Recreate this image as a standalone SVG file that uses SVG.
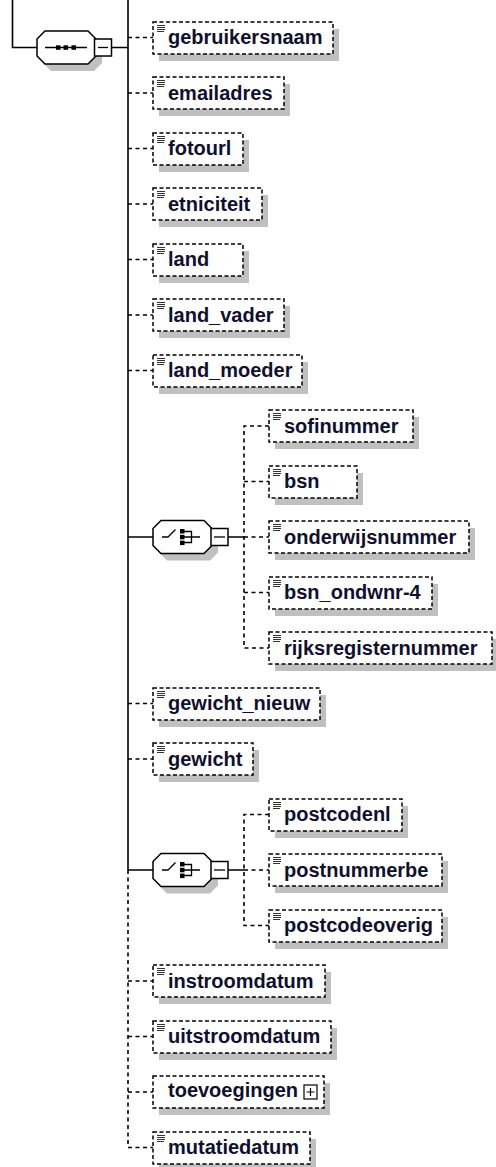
<svg xmlns="http://www.w3.org/2000/svg" xmlns:xlink="http://www.w3.org/1999/xlink" width="496" height="1167" viewBox="0 0 496 1167">
<style>
.box{fill:#fff;stroke:#000;stroke-width:1.5;stroke-dasharray:4 2.5}
.sh{fill:#c0c0c0}
.t{font-family:"Liberation Sans",Arial,sans-serif;font-weight:bold;font-size:20px;fill:#10102e}
.ln{stroke:#000;stroke-width:1.6;fill:none}
.dl{stroke:#000;stroke-width:1.6;fill:none;stroke-dasharray:4 3.5}
.oct{fill:#fff;stroke:#000;stroke-width:1.5}
.cb{fill:#fff;stroke:#000;stroke-width:1.5}
.ic{stroke:#333;stroke-width:1;fill:none}
</style>
<defs>
<g id="ic"><path class="ic" d="M4 3.5H12M4 5.5H12M4 7.5H12M4 9.5H11"/></g>
<g id="chc">
<polygon class="sh" points="167,-9.5 210,-9.5 218,-1.5 218,15.5 210,23.5 167,23.5 159,15.5 159,-1.5"/>
<polygon class="oct" points="161,-16.5 204,-16.5 212,-8.5 212,8.5 204,16.5 161,16.5 153,8.5 153,-8.5"/>
<path class="ln" d="M162 0H168L175.5 -7.5M184 -5.5H191.5V5.5H184M184 0H200" style="stroke-width:1.3"/>
<rect x="180" y="-8" width="4.5" height="4.5" fill="#000"/>
<rect x="180" y="-2.2" width="4.5" height="4.5" fill="#000"/>
<rect x="180" y="3.6" width="4.5" height="4.5" fill="#000"/>
<rect class="cb" x="211" y="-8.5" width="17" height="17"/>
<path class="ln" d="M214 0H225" style="stroke-width:1.3"/>
</g>
</defs>

<g id="connectors">
<path class="ln" d="M12.5 0V47.5H37M112 47.5H128M128 0V870M128 537H153M128 870H153M228 537H244M228 870H244"/>
<path class="dl" d="M128 870V1147.5H153M128 37.5H153M128 93H153M128 148.5H153M128 204H153M128 259.5H153M128 315H153M128 370.5H153M128 703.5H153M128 759H153M128 981H153M128 1036.5H153M128 1092H153"/>
<path class="dl" d="M269 426H244V648H269M244 481.5H269M244 537H269M244 592.5H269"/>
<path class="dl" d="M269 814.5H244V925.5H269M244 870H269"/>
</g>

<g id="sequence">
<polygon class="sh" points="51,38 94,38 102,46 102,63 94,71 51,71 43,63 43,46"/>
<polygon class="oct" points="45,31 88,31 96,39 96,56 88,64 45,64 37,56 37,39"/>
<path class="ln" d="M45 47.5H87" style="stroke-width:1.3"/>
<rect x="56" y="45.3" width="4.5" height="4.5" fill="#000"/>
<rect x="63.5" y="45.3" width="4.5" height="4.5" fill="#000"/>
<rect x="71.5" y="45.3" width="4.5" height="4.5" fill="#000"/>
<rect class="cb" x="94.5" y="39" width="17" height="17"/>
<path class="ln" d="M98 47.5H108" style="stroke-width:1.3"/>
</g>

<g id="choice-1"><use xlink:href="#chc" transform="translate(0,537)"/></g>
<g id="choice-2"><use xlink:href="#chc" transform="translate(0,870)"/></g>

<g id="e-gebruikersnaam"><rect class="sh" x="159" y="29" width="180" height="32"/><rect class="box" x="153" y="22" width="180" height="32"/><use xlink:href="#ic" x="153" y="22"/><text class="t" x="168" y="44">gebruikersnaam</text></g>
<g id="e-emailadres"><rect class="sh" x="159" y="84" width="131" height="32"/><rect class="box" x="153" y="77" width="131" height="32"/><use xlink:href="#ic" x="153" y="77"/><text class="t" x="168" y="99.5">emailadres</text></g>
<g id="e-fotourl"><rect class="sh" x="159" y="140" width="90" height="32"/><rect class="box" x="153" y="133" width="90" height="32"/><use xlink:href="#ic" x="153" y="133"/><text class="t" x="168" y="155">fotourl</text></g>
<g id="e-etniciteit"><rect class="sh" x="159" y="195" width="109" height="32"/><rect class="box" x="153" y="188" width="109" height="32"/><use xlink:href="#ic" x="153" y="188"/><text class="t" x="168" y="210.5">etniciteit</text></g>
<g id="e-land"><rect class="sh" x="159" y="251" width="90" height="32"/><rect class="box" x="153" y="244" width="90" height="32"/><use xlink:href="#ic" x="153" y="244"/><text class="t" x="168" y="266">land</text></g>
<g id="e-land_vader"><rect class="sh" x="159" y="306" width="131" height="32"/><rect class="box" x="153" y="299" width="131" height="32"/><use xlink:href="#ic" x="153" y="299"/><text class="t" x="168" y="321.5">land_vader</text></g>
<g id="e-land_moeder"><rect class="sh" x="159" y="362" width="149" height="32"/><rect class="box" x="153" y="355" width="149" height="32"/><use xlink:href="#ic" x="153" y="355"/><text class="t" x="168" y="377">land_moeder</text></g>

<g id="e-sofinummer"><rect class="sh" x="275" y="417" width="144" height="32"/><rect class="box" x="269" y="410" width="144" height="32"/><use xlink:href="#ic" x="269" y="410"/><text class="t" x="284" y="432.5">sofinummer</text></g>
<g id="e-bsn"><rect class="sh" x="275" y="473" width="88" height="32"/><rect class="box" x="269" y="466" width="88" height="32"/><use xlink:href="#ic" x="269" y="466"/><text class="t" x="284" y="488">bsn</text></g>
<g id="e-onderwijsnummer"><rect class="sh" x="275" y="528" width="200" height="32"/><rect class="box" x="269" y="521" width="200" height="32"/><use xlink:href="#ic" x="269" y="521"/><text class="t" x="284" y="543.5">onderwijsnummer</text></g>
<g id="e-bsn_ondwnr-4"><rect class="sh" x="275" y="584" width="163" height="32"/><rect class="box" x="269" y="577" width="163" height="32"/><use xlink:href="#ic" x="269" y="577"/><text class="t" x="284" y="599">bsn_ondwnr-4</text></g>
<g id="e-rijksregisternummer"><rect class="sh" x="275" y="639" width="223" height="32"/><rect class="box" x="269" y="632" width="223" height="32"/><use xlink:href="#ic" x="269" y="632"/><text class="t" x="284" y="654.5">rijksregisternummer</text></g>

<g id="e-gewicht_nieuw"><rect class="sh" x="159" y="695" width="167" height="32"/><rect class="box" x="153" y="688" width="167" height="32"/><use xlink:href="#ic" x="153" y="688"/><text class="t" x="168" y="710">gewicht_nieuw</text></g>
<g id="e-gewicht"><rect class="sh" x="159" y="750" width="100" height="32"/><rect class="box" x="153" y="743" width="100" height="32"/><use xlink:href="#ic" x="153" y="743"/><text class="t" x="168" y="765.5">gewicht</text></g>

<g id="e-postcodenl"><rect class="sh" x="275" y="806" width="133" height="32"/><rect class="box" x="269" y="799" width="133" height="32"/><use xlink:href="#ic" x="269" y="799"/><text class="t" x="284" y="821">postcodenl</text></g>
<g id="e-postnummerbe"><rect class="sh" x="275" y="861" width="173" height="32"/><rect class="box" x="269" y="854" width="173" height="32"/><use xlink:href="#ic" x="269" y="854"/><text class="t" x="284" y="876.5">postnummerbe</text></g>
<g id="e-postcodeoverig"><rect class="sh" x="275" y="917" width="173" height="32"/><rect class="box" x="269" y="910" width="173" height="32"/><use xlink:href="#ic" x="269" y="910"/><text class="t" x="284" y="932">postcodeoverig</text></g>

<g id="e-instroomdatum"><rect class="sh" x="159" y="972" width="172" height="32"/><rect class="box" x="153" y="965" width="172" height="32"/><use xlink:href="#ic" x="153" y="965"/><text class="t" x="168" y="987.5">instroomdatum</text></g>
<g id="e-uitstroomdatum"><rect class="sh" x="159" y="1028" width="178" height="32"/><rect class="box" x="153" y="1021" width="178" height="32"/><use xlink:href="#ic" x="153" y="1021"/><text class="t" x="168" y="1043">uitstroomdatum</text></g>
<g id="e-toevoegingen"><rect class="sh" x="159" y="1083" width="171" height="32"/><rect class="box" x="153" y="1076" width="171" height="32"/><text class="t" x="168" y="1097">toevoegingen</text><rect class="cb" x="304" y="1085" width="13" height="14" style="stroke-width:1.2"/><path class="ln" d="M306.5 1092H314.5M310.5 1088V1096" style="stroke-width:1.2"/></g>
<g id="e-mutatiedatum"><rect class="sh" x="159" y="1139" width="157" height="32"/><rect class="box" x="153" y="1132" width="157" height="32"/><use xlink:href="#ic" x="153" y="1132"/><text class="t" x="168" y="1154">mutatiedatum</text></g>
</svg>
